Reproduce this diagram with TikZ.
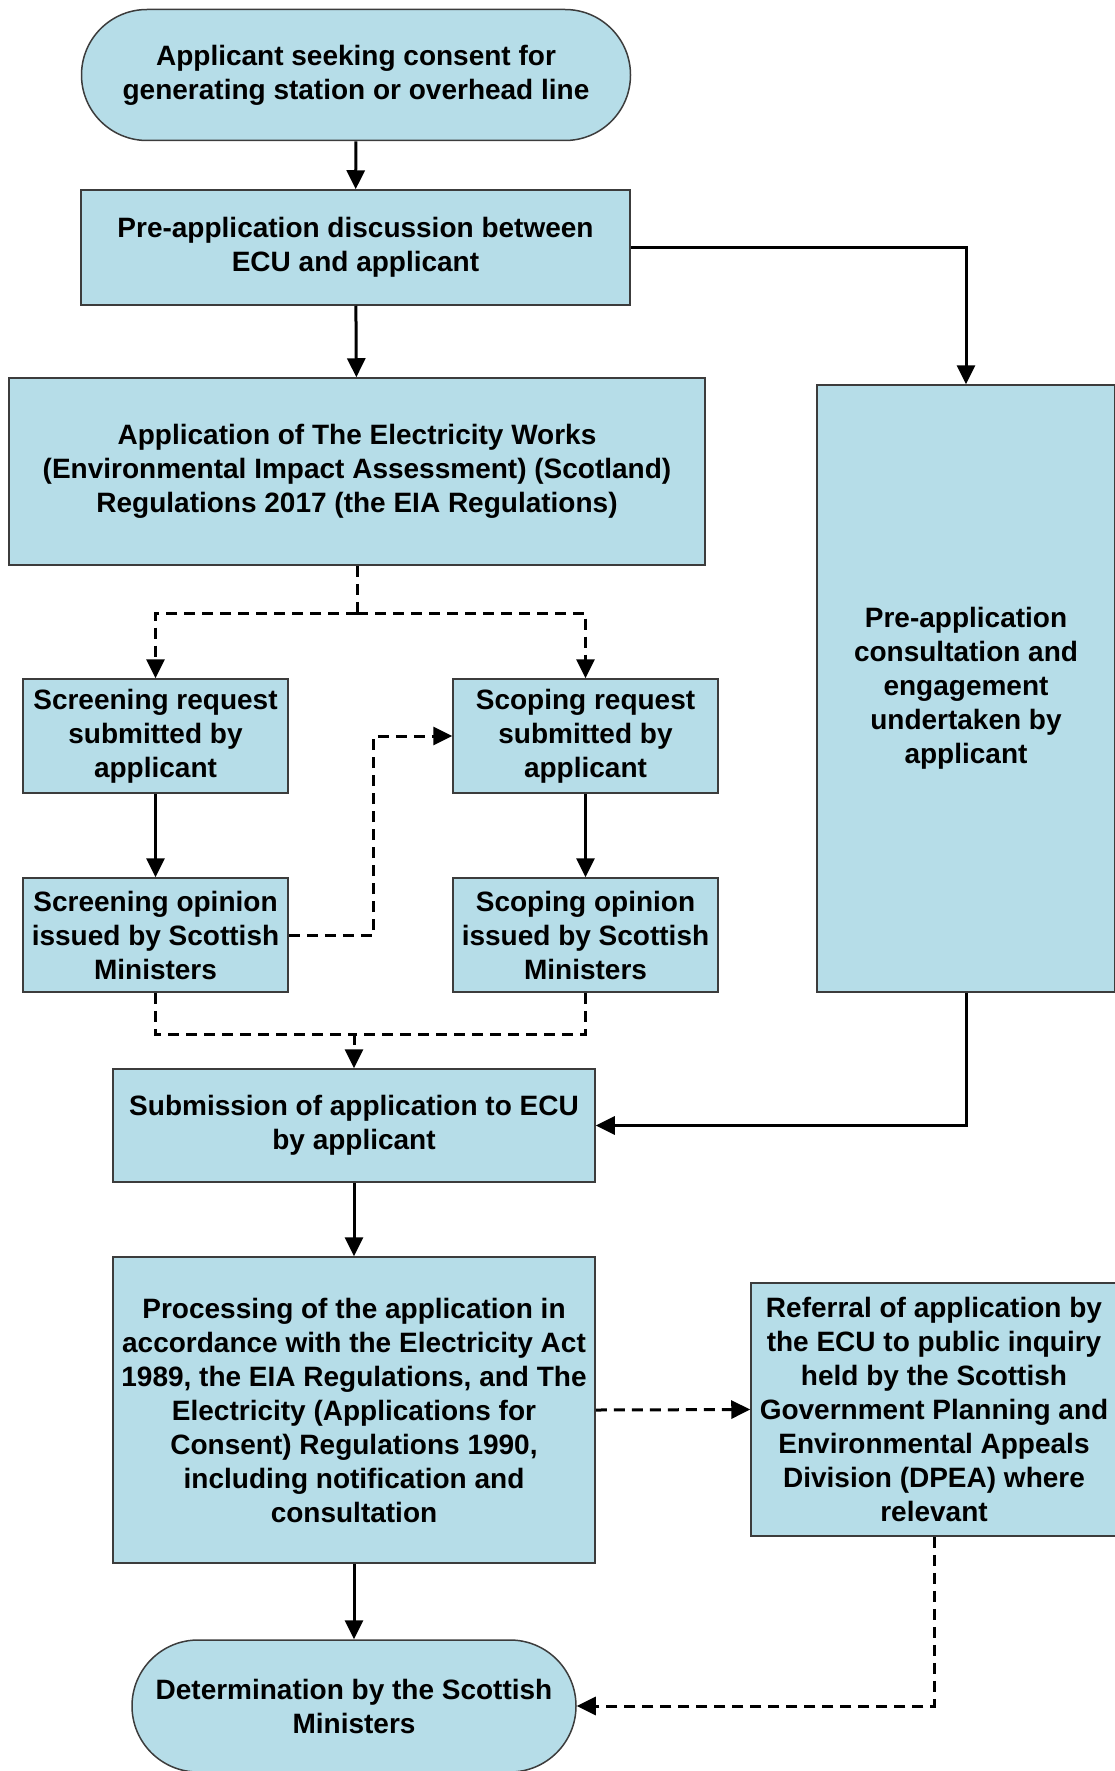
\documentclass[tikz,border=0pt]{standalone}
\usepackage{fontspec}
\setmainfont{Liberation Sans}
\usepackage{tikz}
\usetikzlibrary{arrows.meta}
\usetikzlibrary{shapes.misc}

\definecolor{boxblue}{RGB}{182,221,232}
\definecolor{boxline}{RGB}{60,60,60}

\tikzset{
  box/.style={draw=boxline,fill=boxblue,line width=1.5pt,inner sep=0pt,align=center,
    font=\fontsize{28}{34}\selectfont\bfseries},
  term/.style={box,rounded rectangle},
  arr/.style={line width=3pt,-{Triangle[length=19pt,width=18pt]}},
  dashline/.style={line width=3pt,dash pattern=on 11pt off 7pt},
  dasharr/.style={dashline,-{Triangle[length=19pt,width=18pt]}}
}

\begin{document}
\begin{tikzpicture}[x=1pt,y=-1pt]
  \useasboundingbox (0,0) rectangle (1115,1771);

  \node[term,minimum width=549pt,minimum height=131pt] (start) at (356,75)
    {Applicant seeking consent for\\generating station or overhead line};
  \node[box,minimum width=549pt,minimum height=115pt] (discuss) at (355.5,247.5)
    {Pre-application discussion between\\ECU and applicant};
  \node[box,minimum width=696pt,minimum height=187pt] (eia) at (357,471.5)
    {Application of The Electricity Works\\(Environmental Impact Assessment) (Scotland)\\Regulations 2017 (the EIA Regulations)};
  \node[box,minimum width=298pt,minimum height=607pt] (consult) at (966,688.5)
    {Pre-application\\consultation and\\engagement\\undertaken by\\applicant};

  \node[box,minimum width=265pt,minimum height=114pt] (scrreq) at (155.5,736)
    {Screening request\\submitted by\\applicant};
  \node[box,minimum width=265pt,minimum height=114pt] (scpreq) at (585.5,736)
    {Scoping request\\submitted by\\applicant};
  \node[box,minimum width=265pt,minimum height=114pt] (scrop) at (155.5,935)
    {Screening opinion\\issued by Scottish\\Ministers};
  \node[box,minimum width=265pt,minimum height=114pt] (scpop) at (585.5,935)
    {Scoping opinion\\issued by Scottish\\Ministers};

  \node[box,minimum width=482pt,minimum height=113pt] (submit) at (354,1125.5)
    {Submission of application to ECU\\by applicant};
  \node[box,minimum width=482pt,minimum height=306pt] (process) at (354,1410)
    {Processing of the application in\\accordance with the Electricity Act\\1989, the EIA Regulations, and The\\Electricity (Applications for\\Consent) Regulations 1990,\\including notification and\\consultation};
  \node[box,minimum width=366pt,minimum height=253pt] (referral) at (934,1409.5)
    {Referral of application by\\the ECU to public inquiry\\held by the Scottish\\Government Planning and\\Environmental Appeals\\Division (DPEA) where\\relevant};
  \node[term,minimum width=444pt,minimum height=132pt] (determ) at (354,1706)
    {Determination by the Scottish\\Ministers};

  \coordinate (split) at (357,613);
  \coordinate (merge) at (354,1034);

  \draw[arr] (start) -- (discuss);
  \draw[arr] (discuss.east) -| (consult.north);
  \draw[arr] (discuss) -- (eia);
  \draw[dashline] (eia.south) -- (split);
  \draw[dasharr] (split) -| (scrreq.north);
  \draw[dasharr] (split) -| (scpreq.north);
  \draw[arr] (scrreq) -- (scrop);
  \draw[arr] (scpreq) -- (scpop);
  \draw[dasharr] (scrop.east) -- ++(85,0) |- (scpreq.west);
  \draw[dashline] (scrop.south) |- (merge);
  \draw[dashline] (scpop.south) |- (merge);
  \draw[dasharr] (merge) -- (submit.north);
  \draw[arr] (consult.south) |- (submit.east);
  \draw[arr] (submit) -- (process);
  \draw[dasharr] (process.east) -- (referral.west);
  \draw[arr] (process) -- (determ);
  \draw[dasharr] (referral.south) |- (determ.east);
\end{tikzpicture}
\end{document}
